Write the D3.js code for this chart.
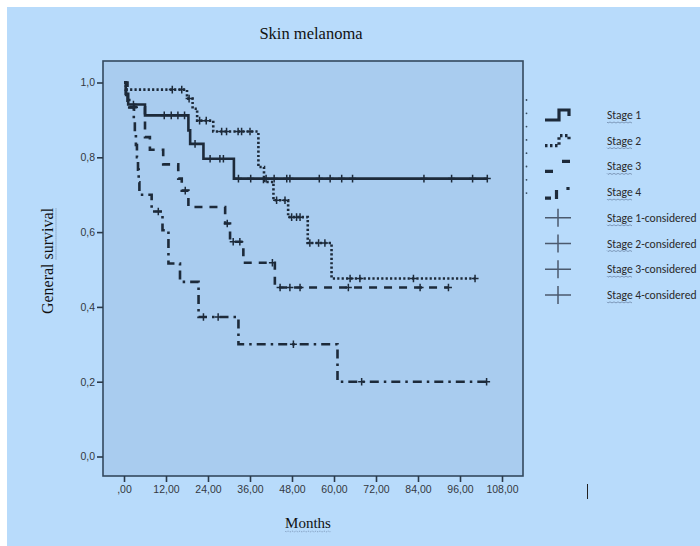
<!DOCTYPE html>
<html>
<head>
<meta charset="utf-8">
<script src="https://cdn.jsdelivr.net/npm/d3@7"></script>
<style>
  html, body { margin: 0; padding: 0; background: #ffffff; }
  svg { display: block; }
</style>
</head>
<body>
<svg id="chart" width="700" height="546"></svg>
<script>
// ---------- data ----------
const monthTicks = [0, 12, 24, 36, 48, 60, 72, 84, 96, 108];
const survivalTicks = [0, 0.2, 0.4, 0.6, 0.8, 1.0];

const stageNames = ["Stage 1", "Stage 2", "Stage 3", "Stage 4"];
const censoredNames = ["Stage 1-considered", "Stage 2-considered", "Stage 3-considered", "Stage 4-considered"];

const stage1Times = [0, 0.5, 1.2, 6.0, 18.4, 18.9, 22.7, 31.4];
const stage1Surv  = [1.0, 0.97, 0.941, 0.912, 0.872, 0.836, 0.796, 0.743];
const stage1End = 104.0;
const stage1Censored = [2.7, 11.5, 13.5, 15.4, 17.3, 20.3, 24.6, 27.4, 28.4, 32.7, 36.2, 40.6, 42.9, 46.5, 47.4, 55.8, 58.9, 62.2, 65.3, 85.7, 93.6, 99.6, 103.8];

const stage2Times = [0, 0.5, 18.0, 19.6, 20.9, 25.5, 38.4, 40.0, 42.7, 46.9, 52.5, 59.3];
const stage2Surv  = [1.0, 0.981, 0.957, 0.93, 0.898, 0.869, 0.774, 0.734, 0.685, 0.64, 0.571, 0.476];
const stage2End = 100.3;
const stage2Censored = [13.8, 16.5, 18.6, 21.6, 23.5, 27.9, 29.3, 32.6, 33.6, 36.0, 43.6, 46.0, 47.9, 49.3, 50.3, 53.1, 55.6, 57.4, 64.6, 67.4, 82.7, 100.3];

const stage3Times = [0, 1.0, 6.0, 7.4, 11.2, 15.5, 16.5, 18.4, 28.9, 30.3, 34.1, 43.1];
const stage3Surv  = [1.0, 0.934, 0.854, 0.82, 0.781, 0.743, 0.711, 0.667, 0.623, 0.574, 0.518, 0.452];
const stage3End = 92.7;
const stage3Censored = [3.0, 17.5, 29.5, 31.2, 33.1, 42.4, 44.6, 47.4, 50.3, 64.1, 84.6, 92.7];

const stage4Times = [0, 0.6, 1.5, 2.8, 3.1, 3.4, 3.7, 4.0, 4.2, 4.4, 7.9, 11.0, 12.7, 16.0, 21.3, 32.7, 61.0];
const stage4Surv  = [1.0, 0.967, 0.933, 0.9, 0.867, 0.833, 0.8, 0.767, 0.733, 0.70, 0.655, 0.605, 0.516, 0.467, 0.373, 0.30, 0.20];
const stage4End = 104.1;
const stage4Censored = [9.8, 22.7, 26.9, 48.4, 67.9, 103.6];

// ---------- layout ----------
const svg = d3.select("#chart");
const frame = { left: 103, right: 523, top: 61, bottom: 476 };
const x = d3.scaleLinear().domain([0, 108]).range([124, 502]);
const y = d3.scaleLinear().domain([0, 1]).range([456.5, 82.5]);
const ink = "#1d2a3a";

svg.append("rect").attr("x", 7).attr("y", 7).attr("width", 693).attr("height", 539).attr("fill", "#b8dbfb");

// plot area
svg.append("rect")
  .attr("x", frame.left).attr("y", frame.top)
  .attr("width", frame.right - frame.left).attr("height", frame.bottom - frame.top)
  .attr("fill", "#a9ccef").attr("stroke", "#34495e").attr("stroke-width", 1.6);

// axes
const fmtY = d => d3.format(".1f")(d).replace(".", ",");
const fmtX = d => d3.format(".2f")(d).replace(".", ",").replace(/^0,/, ",");

const yAxis = svg.append("g").attr("transform", `translate(${frame.left},0)`)
  .call(d3.axisLeft(y).tickValues(survivalTicks).tickSize(6).tickPadding(2).tickFormat(fmtY));
const xAxis = svg.append("g").attr("transform", `translate(0,${frame.bottom})`)
  .call(d3.axisBottom(x).tickValues(monthTicks).tickSize(6).tickPadding(4).tickFormat(fmtX));
[yAxis, xAxis].forEach(g => {
  g.select(".domain").remove();
  g.selectAll(".tick line").attr("stroke", "#2b3a4a").attr("stroke-width", 1.6);
  g.selectAll(".tick text").attr("fill", "#333840")
    .style("font-family", "'Liberation Sans', Arial, sans-serif").style("font-size", "10.5px");
});

// curves
const series = [
  { times: stage1Times, surv: stage1Surv, end: stage1End, cens: stage1Censored, dash: null, width: 2.6 },
  { times: stage2Times, surv: stage2Surv, end: stage2End, cens: stage2Censored, dash: "2.2,2.2", width: 2.6 },
  { times: stage3Times, surv: stage3Surv, end: stage3End, cens: stage3Censored, dash: "8,7", width: 2.6 },
  { times: stage4Times, surv: stage4Surv, end: stage4End, cens: stage4Censored, dash: "2.5,5,9,5", width: 2.6 }
];

const line = d3.line().x(d => x(d[0])).y(d => y(d[1])).curve(d3.curveStepAfter);

function survAt(s, t) {
  let v = s.surv[0];
  for (let i = 0; i < s.times.length; i++) if (s.times[i] <= t) v = s.surv[i];
  return v;
}

series.forEach(s => {
  const pts = s.times.map((t, i) => [t, s.surv[i]]);
  pts.push([s.end, s.surv[s.surv.length - 1]]);
  const p = svg.append("path").datum(pts)
    .attr("d", line).attr("fill", "none")
    .attr("stroke", ink).attr("stroke-width", s.width);
  if (s.dash) p.attr("stroke-dasharray", s.dash);
  svg.append("g").selectAll("path").data(s.cens).join("path")
    .attr("d", t => {
      const cx = x(t), cy = y(survAt(s, t));
      return `M${cx - 3.5},${cy}h7M${cx},${cy - 3.8}v7.6`;
    })
    .attr("stroke", ink).attr("stroke-width", 1.5).attr("fill", "none");
});

// small dots right of frame
d3.range(8).forEach(i => {
  svg.append("circle").attr("cx", 526.5).attr("cy", 100 + i * 13.3).attr("r", 0.9).attr("fill", "#34495e");
});

// titles
const serif = "'Liberation Serif', 'Times New Roman', serif";
svg.append("text").attr("x", 311).attr("y", 39).attr("text-anchor", "middle")
  .style("font-family", serif).style("font-size", "16.5px").attr("fill", "#111")
  .text("Skin melanoma");

function squiggle(x0, x1, yy) {
  let d = `M${x0},${yy}`;
  for (let xx = x0; xx < x1; xx += 2) d += `L${Math.min(xx + 1, x1)},${yy + ((xx - x0) / 2 % 2 === 0 ? 1 : 0)}`;
  return d;
}

const mt = svg.append("text").attr("x", 308).attr("y", 528).attr("text-anchor", "middle")
  .style("font-family", serif).style("font-size", "15px").attr("fill", "#111")
  .text("Months");
{
  const bb = mt.node().getBBox();
  svg.append("path").attr("d", squiggle(bb.x, bb.x + bb.width, 531)).attr("fill", "none")
    .attr("stroke", "#6d87a8").attr("stroke-width", 0.8).attr("stroke-dasharray", "1,1");
}

const yl = svg.append("text").attr("transform", "translate(53,261) rotate(-90)")
  .attr("text-anchor", "middle")
  .style("font-family", serif).style("font-size", "16px").attr("fill", "#111")
  .text("General survival");
{
  const node = yl.node();
  const total = node.getComputedTextLength();
  const start = node.getSubStringLength(0, 8);
  const len = node.getSubStringLength(8, 8);
  const y0 = 261 + total / 2 - start - len;
  svg.append("path").attr("d", `M56,${261 + total / 2 - start}V${y0}`).attr("fill", "none")
    .attr("stroke", "#6d87a8").attr("stroke-width", 1).attr("stroke-dasharray", "1,1");
}

// legend
const legendRows = stageNames.concat(censoredNames);
const rowY = i => 115 + i * 25.7;
const legendFont = "Carlito, Lato, 'Open Sans', sans-serif";
legendRows.forEach((name, i) => {
  const ty = rowY(i);
  const t = svg.append("text").attr("x", 607).attr("y", ty + 4)
    .style("font-family", legendFont).style("font-size", "11.6px").attr("fill", "#2a2a2a")
    .text(name);
  const w = t.node().getSubStringLength(0, 5);
  svg.append("path").attr("d", squiggle(607, 607 + w, ty + 7)).attr("fill", "none")
    .attr("stroke", "#7089aa").attr("stroke-width", 0.8);
});

// legend symbols
const symG = svg.append("g").attr("stroke", ink).attr("fill", "none").attr("stroke-width", 3.2);
symG.append("path").attr("d", `M545,${rowY(0) + 5}H559V${rowY(0) - 5}H569V${rowY(0) + 1}`);
symG.append("path").attr("d", `M545,${rowY(1) + 5}H559V${rowY(1) - 5}H569V${rowY(1) + 1}`)
  .attr("stroke-dasharray", "2.5,2.5");
symG.append("path").attr("d", `M545,${rowY(2) + 5}H553M562,${rowY(2) - 5}H570`);
symG.append("path").attr("d", `M545,${rowY(3) + 6}H551M556.5,${rowY(3) - 2}V${rowY(3) + 7}M568,${rowY(3) - 5}V${rowY(3) - 2}`);
for (let i = 4; i < 8; i++) {
  svg.append("path").attr("d", `M545,${rowY(i)}H571M558,${rowY(i) - 9}V${rowY(i) + 9}`)
    .attr("stroke", "#4b5a6e").attr("stroke-width", 1.5).attr("fill", "none");
}

// stray cursor mark
svg.append("path").attr("d", "M587.5,484V499").attr("stroke", "#222").attr("stroke-width", 1);
</script>
</body>
</html>
